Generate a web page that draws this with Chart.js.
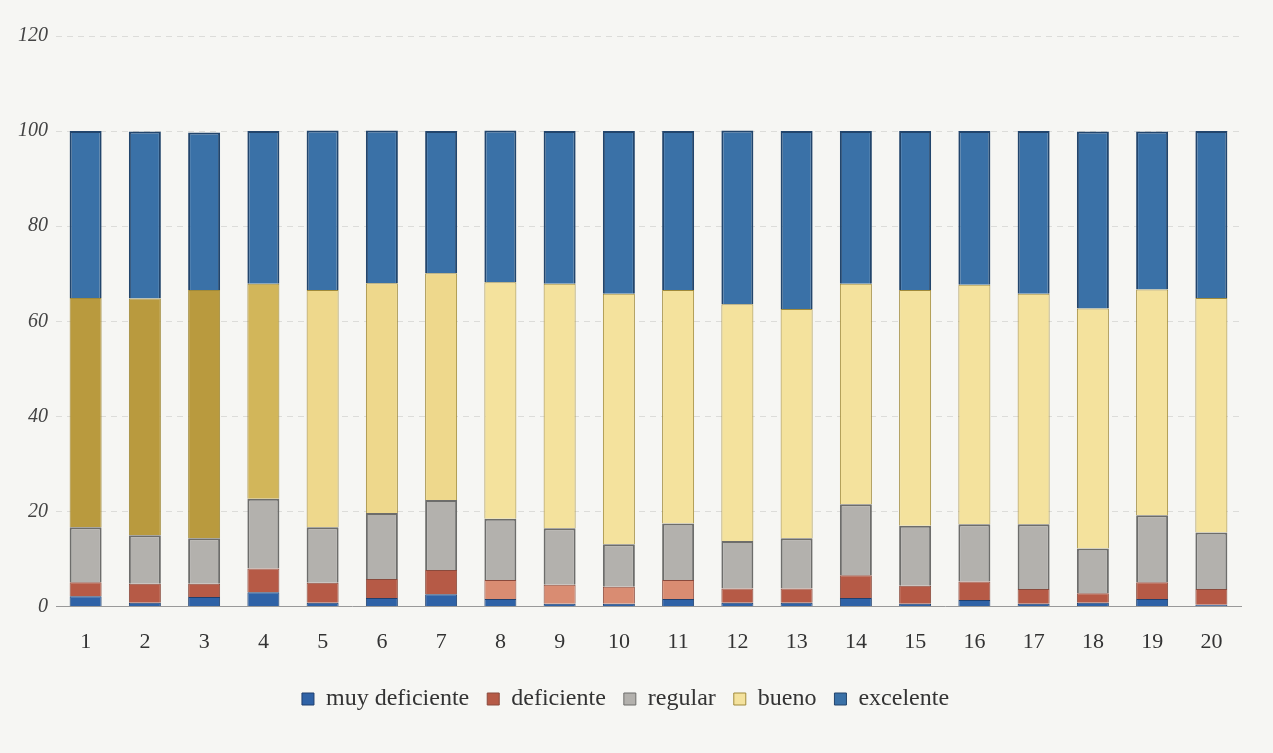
<!DOCTYPE html>
<html>
<head>
<meta charset="utf-8">
<script src="https://cdn.jsdelivr.net/npm/chart.js@4.4.1/dist/chart.umd.min.js"></script>
<style>
  html, body { margin: 0; padding: 0; background: #f6f6f3; }
  #wrap { width: 1273px; height: 753px; }
</style>
</head>
<body>
<div id="wrap"><canvas id="chart"></canvas></div>
<script>
// categorías (1..20)
const CATEGORIAS = ['1','2','3','4','5','6','7','8','9','10','11','12','13','14','15','16','17','18','19','20'];

// porcentajes
const MUY_DEFICIENTE = [2.2, 0.8, 2.0, 3.0, 0.8, 1.8, 2.6, 1.6, 0.6, 0.6, 1.6, 0.8, 0.8, 1.8, 0.6, 1.4, 0.6, 0.8, 1.6, 0.4];
const DEFICIENTE     = [2.9, 4.0, 2.8, 5.0, 4.2, 4.0, 5.1, 4.0, 4.0, 3.6, 4.0, 3.0, 3.0, 4.8, 3.8, 3.9, 3.1, 2.0, 3.5, 3.3];
const REGULAR        = [11.6, 10.2, 9.6, 14.7, 11.7, 13.9, 14.7, 12.9, 11.9, 8.9, 11.9, 10.0, 10.6, 14.9, 12.6, 12.0, 13.6, 9.4, 14.1, 11.9];
const BUENO          = [48.2, 49.8, 52.2, 45.2, 49.9, 48.3, 47.7, 49.7, 51.4, 52.7, 49.1, 49.8, 48.2, 46.4, 49.6, 50.4, 48.5, 50.5, 47.5, 49.3];
const EXCELENTE      = [35.1, 35.1, 33.1, 32.1, 33.5, 32.1, 29.9, 31.9, 32.1, 34.2, 33.4, 36.5, 37.4, 32.1, 33.4, 32.3, 34.2, 37.2, 33.2, 35.1];

const Y_MIN = 0, Y_MAX = 120, Y_PASO = 20;

// el amarillo de "bueno" sale más oscuro en las primeras barras de la foto
const buenoColor = CATEGORIAS.map((c, i) => i < 3 ? '#b99a3e' : (i === 3 ? '#d2b65a' : (i < 7 ? '#eed88c' : '#f4e29d')));
const defColor = CATEGORIAS.map((c, i) => (i >= 7 && i <= 10) ? '#d98c72' : '#b65a46');

const SERIF = "'Liberation Serif', 'DejaVu Serif', serif";

new Chart(document.getElementById('chart').getContext('2d'), {
  type: 'bar',
  data: {
    labels: CATEGORIAS,
    datasets: [
      { label: 'muy deficiente', data: MUY_DEFICIENTE, backgroundColor: '#2f62a6', borderColor: '#1f3f6e', borderWidth: 1 },
      { label: 'deficiente', data: DEFICIENTE, backgroundColor: defColor, borderColor: '#8a4a3c', borderWidth: 1 },
      { label: 'regular', data: REGULAR, backgroundColor: '#b3b1ad', borderColor: '#6d6d6b', borderWidth: 2 },
      { label: 'bueno', data: BUENO, backgroundColor: buenoColor, borderColor: '#a08a3a', borderWidth: 1 },
      { label: 'excelente', data: EXCELENTE, backgroundColor: '#3a71a7', borderColor: '#22456c', borderWidth: 2 }
    ]
  },
  options: {
    responsive: true,
    maintainAspectRatio: false,
    animation: false,
    layout: { padding: { top: 36, right: 32, bottom: 32, left: 10 } },
    datasets: { bar: { categoryPercentage: 1.0, barPercentage: 0.54 } },
    plugins: {
      legend: {
        position: 'bottom',
        labels: {
          font: { family: SERIF, size: 24 },
          color: '#333',
          boxWidth: 12,
          boxHeight: 12,
          padding: 18,
          generateLabels: (chart) => chart.data.datasets.map((ds, i) => ({
            text: ds.label,
            fillStyle: Array.isArray(ds.backgroundColor) ? ds.backgroundColor[ds.backgroundColor.length - 1] : ds.backgroundColor,
            strokeStyle: ds.borderColor,
            lineWidth: 1,
            datasetIndex: i,
            hidden: false,
            fontColor: '#333'
          }))
        }
      },
      tooltip: { enabled: false }
    },
    scales: {
      x: {
        stacked: true,
        grid: { display: false },
        border: { color: '#999', dash: [8, 5] },
        ticks: { font: { family: SERIF, size: 22 }, color: '#333', padding: 14 }
      },
      y: {
        stacked: true,
        min: Y_MIN,
        max: Y_MAX,
        ticks: { stepSize: Y_PASO, font: { family: SERIF, size: 20, style: 'italic' }, color: '#444', padding: 8 },
        grid: { color: '#dcdcd9', tickLength: 0 },
        border: { display: false, dash: [6, 5] }
      }
    }
  }
});
</script>
</body>
</html>
